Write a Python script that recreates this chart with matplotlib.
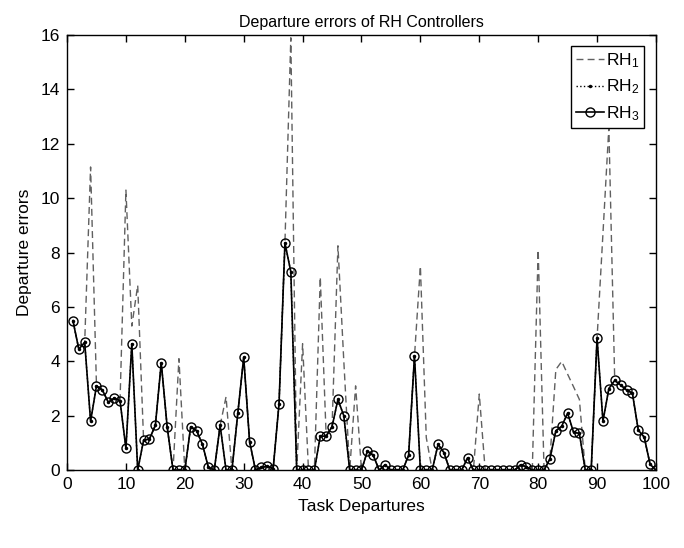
import numpy as np
import matplotlib
matplotlib.use("Agg")
import matplotlib.pyplot as plt

plt.rcParams['font.family'] = ['Liberation Sans', 'DejaVu Sans']
plt.rcParams['mathtext.default'] = 'regular'

tasks = list(range(1, 101))

rh3 = [5.5, 4.45, 4.7, 1.8, 3.1, 2.95, 2.5, 2.65, 2.55, 0.8,
       4.65, 0.0, 1.1, 1.15, 1.65, 3.95, 1.6, 0.0, 0.0, 0.0,
       1.6, 1.45, 0.95, 0.1, 0.0, 1.65, 0.0, 0.0, 2.1, 4.15,
       1.05, 0.0, 0.1, 0.15, 0.05, 2.45, 8.35, 7.3, 0.0, 0.0,
       0.0, 0.0, 1.25, 1.25, 1.6, 2.6, 2.0, 0.0, 0.0, 0.0,
       0.7, 0.55, 0.0, 0.2, 0.0, 0.0, 0.0, 0.55, 4.2, 0.0,
       0.0, 0.0, 0.95, 0.65, 0.0, 0.0, 0.0, 0.45, 0.0, 0.0,
       0.0, 0.0, 0.0, 0.0, 0.0, 0.0, 0.2, 0.12, 0.0, 0.0,
       0.0, 0.42, 1.45, 1.62, 2.1, 1.4, 1.35, 0.0, 0.0, 4.85,
       1.8, 3.0, 3.3, 3.13, 2.95, 2.83, 1.47, 1.22, 0.22, 0.0]

rh2 = list(rh3)

rh1 = [5.5, 4.45, 4.7, 11.15, 3.1, 2.95, 2.5, 2.65, 2.55, 10.3,
       5.3, 6.8, 1.1, 1.15, 1.65, 3.95, 1.6, 0.0, 4.1, 0.0,
       1.6, 1.45, 0.95, 0.1, 0.0, 1.65, 2.7, 0.0, 2.1, 4.15,
       1.05, 0.0, 0.1, 0.15, 0.05, 2.45, 8.35, 15.9, 0.0, 4.65,
       0.0, 0.0, 7.1, 1.25, 1.6, 8.25, 4.0, 0.0, 3.1, 0.0,
       0.7, 0.55, 0.0, 0.2, 0.0, 0.0, 0.0, 0.55, 4.2, 7.5,
       1.2, 0.0, 0.95, 0.65, 0.0, 0.0, 0.0, 0.45, 0.0, 2.8,
       0.0, 0.0, 0.0, 0.0, 0.0, 0.0, 0.2, 0.12, 0.0, 8.1,
       0.0, 0.42, 3.7, 4.0, 3.53, 3.07, 2.6, 0.0, 0.0, 4.85,
       8.7, 12.6, 3.3, 3.13, 2.95, 2.83, 1.47, 1.22, 0.22, 0.0]

xticks = list(range(0, 101, 10))
yticks = list(range(0, 17, 2))

fig = plt.figure(figsize=(6.84, 5.48), dpi=100)
ax = fig.add_axes([0.098, 0.142, 0.861, 0.794])

ax.plot(tasks, rh1, linestyle='--', dashes=(5, 3), color='#606060', linewidth=1.0,
        label='RH$_1$')
ax.plot(tasks, rh2, linestyle=':', color='black', linewidth=1.0, marker='.',
        markersize=3, label='RH$_2$')
ax.plot(tasks, rh3, linestyle='-', color='black', linewidth=1.2, marker='o',
        markersize=6.5, markerfacecolor='none', markeredgecolor='black',
        markeredgewidth=1.0, label='RH$_3$')

ax.set_xlim(0, 100)
ax.set_ylim(0, 16)
ax.set_xticks(xticks)
ax.set_yticks(yticks)
ax.tick_params(direction='in', top=True, right=True, length=5, width=1,
               labelsize=12.5, colors='black', pad=5)
for s in ax.spines.values():
    s.set_linewidth(1.0)
    s.set_color('black')

ax.set_xlabel('Task Departures', fontsize=12.5, labelpad=5)
ax.set_ylabel('Departure errors', fontsize=12.5, labelpad=6)
ax.set_title('Departure errors of RH Controllers', fontsize=11.5, pad=6)

leg = ax.legend(loc='upper right', fontsize=12.5, numpoints=1, handlelength=1.6,
                handletextpad=0.1, labelspacing=0.45, borderpad=0.3,
                fancybox=False, framealpha=1, edgecolor='black',
                bbox_to_anchor=(0.995, 0.995))
leg.get_frame().set_linewidth(1.0)

fig.savefig('out.png', dpi=100)
